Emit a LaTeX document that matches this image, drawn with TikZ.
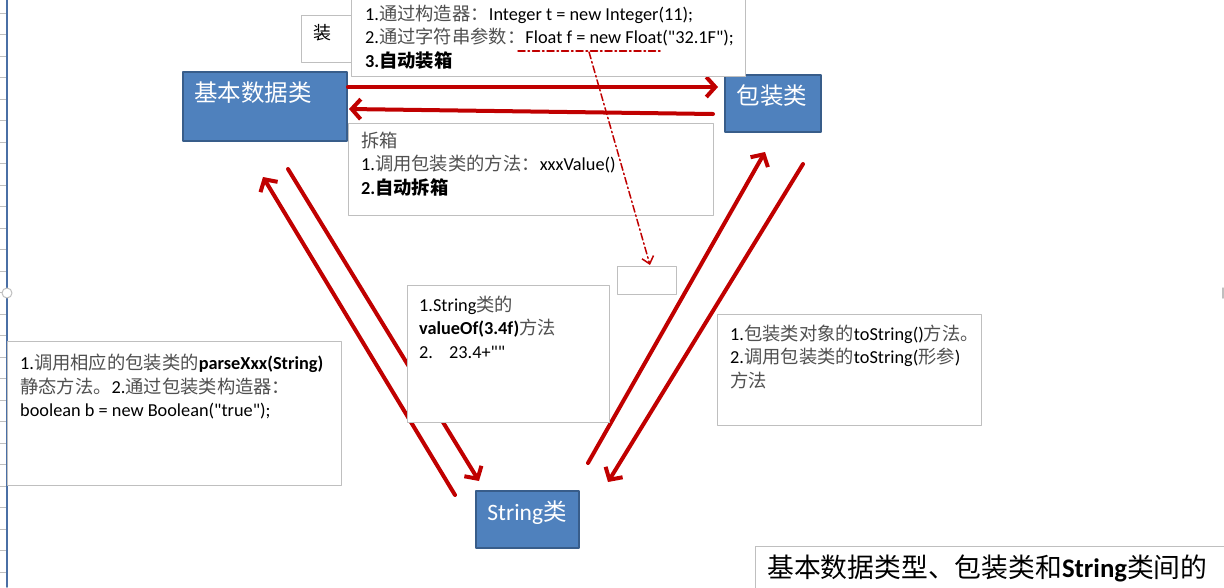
\documentclass[tikz,border=0pt]{standalone}
\usepackage{fontspec}
\setmainfont{Carlito}[Ligatures=TeXOff]
\newfontfamily\cjk{Noto Sans CJK SC}
\usetikzlibrary{arrows.meta,positioning}
\definecolor{boxblue}{HTML}{4F81BD}
\definecolor{boxedge}{HTML}{385D8A}
\definecolor{arrowred}{HTML}{C00000}
\definecolor{noteedge}{HTML}{BFBFBF}
\definecolor{zhgray}{HTML}{505050}
\definecolor{sheetblue}{HTML}{4A6FA5}
\newcommand{\zh}[1]{{\cjk\color{zhgray}#1}}
\newcommand{\zhb}[1]{{\cjk #1}}

\tikzset{
  classbox/.style={draw=boxedge, line width=2pt, fill=boxblue, inner sep=0pt},
  classtext/.style={text=white, font=\fontsize{23.5}{27}\selectfont},
  notebox/.style={draw=noteedge, line width=1pt, fill=white, inner sep=0pt, anchor=north west},
  notetext/.style={anchor=north west, inner sep=0pt, align=left, font=\fontsize{18.3}{23.3}\selectfont},
  convert/.style={draw=arrowred, line width=4pt, -{Straight Barb[length=9pt,width=20pt,line width=4pt]}},
  hint/.style={draw=arrowred, line width=1.5pt, dash pattern=on 7pt off 3pt on 1.5pt off 3pt},
}

\begin{document}
\begin{tikzpicture}[x=1pt,y=-1pt,line cap=round,line join=round]
  \useasboundingbox (0,0) rectangle (1224,587);
  % 表格边线
  \foreach \k in {0,...,26}
    \draw[noteedge, line width=0.8pt] (0,13+21.5*\k) -- (6,13+21.5*\k);
  \draw[sheetblue, line width=1.6pt] (7,0) -- (7,587);
  \draw[noteedge, line width=1pt, fill=white] (7,293) circle (5);
  \draw[noteedge, line width=1.5pt] (1223,288) -- (1223,298);

  % 三个类
  \node[classbox, minimum width=164, minimum height=69, anchor=north west] (basic) at (182,71) {};
  \node[classbox, minimum width=96, minimum height=57, anchor=north west] (wrapper) at (724,74) {};
  \node[classbox, minimum width=103, minimum height=57, anchor=north west] (string) at (475,490) {};
  \node[classtext] (basiclabel) at (253,93) {\cjk 基本数据类};
  \node[classtext] (wrapperlabel) at (772,96) {\cjk 包装类};
  \node[classtext] (stringlabel) at (527,513) {String\cjk 类};

  % 转换箭头
  \coordinate (boxin) at (348,87);
  \coordinate (boxout) at (718,87);
  \coordinate (unboxin) at (713,114);
  \coordinate (unboxout) at (349,109);
  \coordinate (parsein) at (455,495);
  \coordinate (parseout) at (263,177);
  \coordinate (valuein) at (288,169);
  \coordinate (valueout) at (479,481);
  \coordinate (ctorin) at (588,463);
  \coordinate (ctorout) at (765,152);
  \coordinate (tostrin) at (803,164);
  \coordinate (tostrout) at (608,482);
  \draw[convert] (boxin) -- (boxout);
  \draw[convert] (unboxin) -- (unboxout);
  \draw[convert] (parsein) -- (parseout);
  \draw[convert] (valuein) -- (valueout);
  \draw[convert] (ctorin) -- (ctorout);
  \draw[convert] (tostrin) -- (tostrout);

  % 说明框
  \node[notebox, minimum width=52, minimum height=47] (boxtag) at (301,15) {};
  \node[font=\fontsize{18}{20}\selectfont] (boxtaglabel) at (322,33) {\cjk 装};
  \node[notebox, minimum width=394, minimum height=82] (boxnote) at (351,-6) {};
  \node[notetext] (boxnotetext) at (365,5) {1.\zh{通过构造器：}Integer t = new Integer(11);\\
    2.\zh{通过字符串参数：}Float f = new Float("32.1F");\\
    \textbf{3.\zhb{自动装箱}}};
  \node[notebox, minimum width=365, minimum height=92] (unboxnote) at (348,123) {};
  \node[notetext] (unboxnotetext) at (361,132) {\zh{拆箱}\\
    1.\zh{调用包装类的方法：}xxxValue()\\
    \textbf{2.\zhb{自动拆箱}}};
  \node[notebox, minimum width=59, minimum height=28] (emptynote) at (617,266) {};
  \node[notebox, minimum width=202, minimum height=137] (valuenote) at (407,285) {};
  \node[notetext] (valuenotetext) at (419,296) {1.String\zh{类的}\\
    \textbf{valueOf(3.4f)}\zh{方法}\\
    2.\hspace{16pt}23.4+""};
  \node[notebox, minimum width=334, minimum height=144] (parsenote) at (7,341) {};
  \node[notetext] (parsenotetext) at (20,354) {1.\zh{调用相应的包装类的}\textbf{parseXxx(String)}\\
    \zh{静态方法。}2.\zh{通过包装类构造器：}\\
    boolean b = new Boolean("true");};
  \node[notebox, minimum width=264, minimum height=111] (tostrnote) at (717,314) {};
  \node[notetext] (tostrnotetext) at (730,325) {1.\zh{包装类对象的}toString()\zh{方法。}\\
    2.\zh{调用包装类的}toString(\zh{形参})\\
    \zh{方法}};
  \draw[noteedge, line width=1pt] (755,590) -- (755,546) -- (1226,546);
  \node[anchor=west, inner sep=0pt, font=\fontsize{26.8}{30}\selectfont] (title) at (767,568)
    {\cjk 基本数据类型、包装类和\textbf{\rmfamily String}类间的};

  % 点划线提示
  \coordinate (hintleft) at (518,51);
  \coordinate (hintright) at (660,51);
  \coordinate (hintstart) at (589,52);
  \coordinate (hintend) at (650,265);
  \draw[hint] (hintleft) -- (hintright);
  \draw[hint, -{Straight Barb[length=7pt,width=12pt,line width=1.5pt]}] (hintstart) -- (hintend);
\end{tikzpicture}
\end{document}
